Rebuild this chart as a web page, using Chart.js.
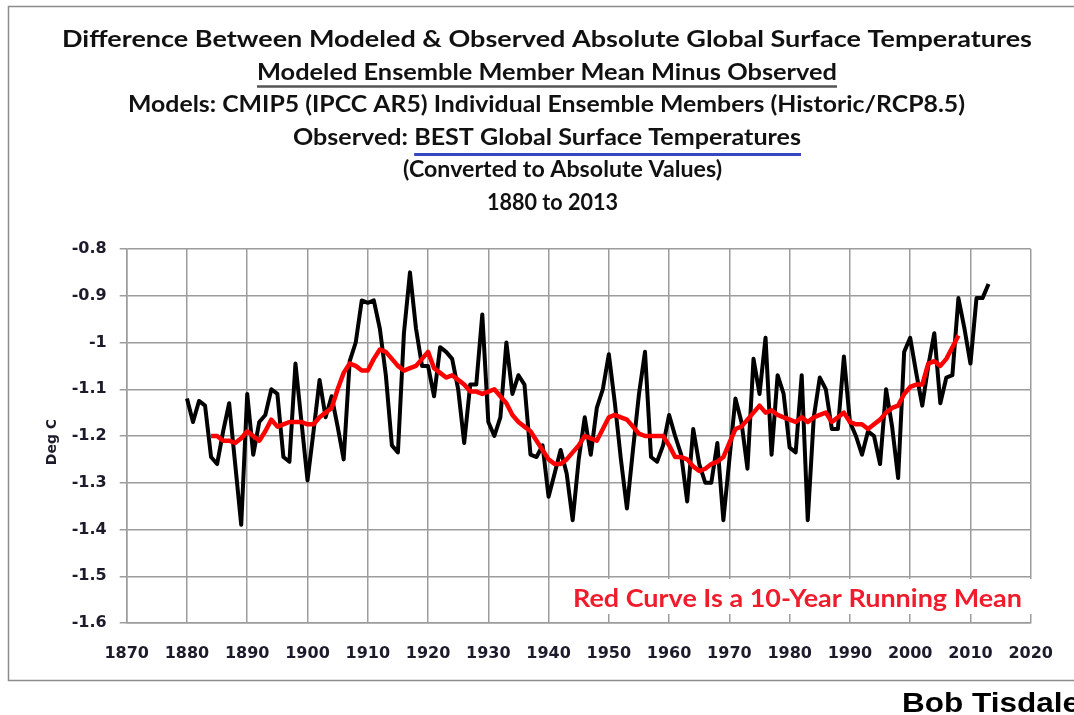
<!DOCTYPE html>
<html>
<head>
<meta charset="utf-8">
<script src="https://cdn.jsdelivr.net/npm/chart.js@4.4.1/dist/chart.umd.min.js"></script>
<style>
  html, body { margin: 0; padding: 0; background: #fff; }
  canvas { display: block; }
</style>
</head>
<body>
<canvas id="chart" width="1074" height="715"></canvas>
<script>
// values
const firstYear = 1880;
const modeledMinusObserved = [
  -1.12, -1.17, -1.125, -1.135, -1.245, -1.26, -1.19, -1.13, -1.26, -1.39,
  -1.11, -1.24, -1.17, -1.155, -1.10, -1.11, -1.245, -1.255, -1.045, -1.17,
  -1.295, -1.19, -1.08, -1.16, -1.115, -1.18, -1.25, -1.04, -1.00, -0.91,
  -0.915, -0.91, -0.97, -1.07, -1.22, -1.235, -0.98, -0.85, -0.97, -1.05,
  -1.05, -1.115, -1.01, -1.02, -1.035, -1.10, -1.215, -1.09, -1.09, -0.94,
  -1.17, -1.20, -1.16, -1.00, -1.11, -1.07, -1.09, -1.24, -1.245, -1.22,
  -1.33, -1.28, -1.23, -1.28, -1.38, -1.25, -1.16, -1.24, -1.14, -1.10,
  -1.025, -1.13, -1.25, -1.355, -1.23, -1.11, -1.02, -1.245, -1.255, -1.22,
  -1.155, -1.20, -1.24, -1.34, -1.185, -1.26, -1.30, -1.30, -1.215, -1.38,
  -1.25, -1.12, -1.17, -1.27, -1.035, -1.11, -0.99, -1.24, -1.07, -1.11,
  -1.225, -1.235, -1.07, -1.38, -1.16, -1.075, -1.10, -1.185, -1.185, -1.03,
  -1.17, -1.20, -1.24, -1.19, -1.20, -1.26, -1.10, -1.18, -1.29, -1.02,
  -0.99, -1.065, -1.135, -1.05, -0.98, -1.13, -1.075, -1.07, -0.905, -0.97,
  -1.045, -0.905, -0.905, -0.875
];

const meanFirstYear = 1884;
const runningMean = [
  -1.20, -1.20, -1.21, -1.21, -1.215, -1.205, -1.19, -1.20, -1.21, -1.19,
  -1.165, -1.18, -1.175, -1.17, -1.17, -1.17, -1.175, -1.175, -1.16, -1.15,
  -1.14, -1.10, -1.065, -1.045, -1.05, -1.06, -1.06, -1.035, -1.015, -1.02,
  -1.035, -1.05, -1.06, -1.055, -1.05, -1.035, -1.02, -1.055, -1.065, -1.075,
  -1.07, -1.08, -1.09, -1.105, -1.105, -1.11, -1.105, -1.10, -1.115, -1.13,
  -1.155, -1.17, -1.18, -1.19, -1.21, -1.23, -1.25, -1.26, -1.26, -1.25,
  -1.235, -1.22, -1.20, -1.205, -1.21, -1.185, -1.16, -1.155, -1.16, -1.165,
  -1.18, -1.195, -1.20, -1.20, -1.20, -1.20, -1.22, -1.245, -1.245, -1.25,
  -1.265, -1.275, -1.27, -1.26, -1.255, -1.245, -1.215, -1.185, -1.18, -1.165,
  -1.15, -1.135, -1.15, -1.145, -1.155, -1.16, -1.165, -1.17, -1.16, -1.17,
  -1.16, -1.155, -1.15, -1.17, -1.16, -1.15, -1.17, -1.175, -1.175, -1.185,
  -1.175, -1.165, -1.15, -1.14, -1.135, -1.11, -1.095, -1.09, -1.09, -1.045,
  -1.04, -1.05, -1.035, -1.01, -0.985
];

const xMin = 1870, xMax = 2020, xStep = 10;
const yMin = -1.6, yMax = -0.8, yStep = 0.1;

const titleLines = [
  "Difference Between Modeled & Observed Absolute Global Surface Temperatures",
  "Modeled Ensemble Member Mean Minus Observed",
  "Models: CMIP5 (IPCC AR5) Individual Ensemble Members (Historic/RCP8.5)",
  "Observed: BEST Global Surface Temperatures",
  "(Converted to Absolute Values)",
  "1880 to 2013"
];
const yTitle = "Deg C";
const noteText = "Red Curve Is a 10-Year Running Mean";
const credit = "Bob Tisdale";

const diffPoints = modeledMinusObserved.map((v, i) => ({ x: firstYear + i, y: v }));
const meanPoints = runningMean.map((v, i) => ({ x: meanFirstYear + i, y: v }));

const gridColor = '#9c9c9c';
const tickFont = { family: '"DejaVu Sans", Verdana, sans-serif', size: 16, weight: 'bold' };
const tickColor = '#1b1b2b';
const titleFont = '700 23px Lato, "Open Sans", sans-serif';

// draws text squeezed/stretched to a given width
function fitText(ctx, text, left, baseline, width, font, color) {
  ctx.save();
  ctx.font = font;
  const w = ctx.measureText(text).width;
  const s = width / w;
  ctx.translate(left, baseline);
  ctx.scale(s, 1);
  ctx.fillStyle = color;
  ctx.textAlign = 'left';
  ctx.textBaseline = 'alphabetic';
  ctx.fillText(text, 0, 0);
  ctx.restore();
  return s;
}

const decor = {
  id: 'decor',
  beforeDraw(chart) {
    const ctx = chart.ctx;
    ctx.save();
    ctx.fillStyle = '#fff';
    ctx.fillRect(0, 0, chart.width, chart.height);
    // outer frame (right side is cut off in the original)
    ctx.strokeStyle = '#8c8c8c';
    ctx.lineWidth = 1.5;
    ctx.beginPath();
    ctx.moveTo(1080, 6.5);
    ctx.lineTo(8.5, 6.5);
    ctx.lineTo(8.5, 680.5);
    ctx.lineTo(1080, 680.5);
    ctx.stroke();
    ctx.restore();
  },
  afterDraw(chart) {
    const ctx = chart.ctx;
    // title block
    const spans = [[62, 1032], [257, 837], [128, 965], [293, 801], [403, 722], [487, 618]];
    const base0 = 47, gap = 32.5;
    spans.forEach((sp, i) => {
      const y = base0 + i * gap;
      const s = fitText(ctx, titleLines[i], sp[0], y, sp[1] - sp[0], titleFont, '#111');
      if (i === 1) {
        ctx.save();
        ctx.strokeStyle = '#555';
        ctx.lineWidth = 2.5;
        ctx.beginPath();
        ctx.moveTo(sp[0], y + 7);
        ctx.lineTo(sp[1], y + 7);
        ctx.stroke();
        ctx.restore();
      }
      if (i === 3) {
        ctx.save();
        ctx.font = titleFont;
        const pre = ctx.measureText("Observed: ").width * s;
        ctx.strokeStyle = '#3846c0';
        ctx.lineWidth = 3;
        ctx.beginPath();
        ctx.moveTo(sp[0] + pre, y + 10);
        ctx.lineTo(sp[1], y + 10);
        ctx.stroke();
        ctx.restore();
      }
    });

    // y axis title
    ctx.save();
    ctx.translate(52, 442);
    ctx.rotate(-Math.PI / 2);
    ctx.font = 'bold 14px "DejaVu Sans", sans-serif';
    ctx.fillStyle = tickColor;
    ctx.textAlign = 'center';
    ctx.textBaseline = 'middle';
    ctx.fillText(yTitle, 0, 0);
    ctx.restore();

    // note box inside the plot
    ctx.save();
    ctx.fillStyle = '#fff';
    ctx.fillRect(565, 579, 471, 35);
    ctx.restore();
    fitText(ctx, noteText, 573, 607, 449, '700 24px Lato, "Open Sans", sans-serif', '#f01c2c');

    // credit
    fitText(ctx, credit, 902, 712, 178, 'bold 27px "Liberation Sans", Arial, sans-serif', '#000');
  }
};

new Chart(document.getElementById('chart'), {
  type: 'line',
  data: {
    datasets: [
      {
        label: '10-Year Running Mean',
        data: meanPoints,
        borderColor: '#ff0000',
        borderWidth: 4.5,
        pointRadius: 0,
        tension: 0,
        borderJoinStyle: 'round'
      },
      {
        label: 'Modeled Minus Observed',
        data: diffPoints,
        borderColor: '#000000',
        borderWidth: 4,
        pointRadius: 0,
        tension: 0,
        borderJoinStyle: 'round'
      }
    ]
  },
  options: {
    responsive: false,
    animation: false,
    devicePixelRatio: 1,
    layout: { padding: { left: 0, right: 36.4, top: 249, bottom: 0 } },
    plugins: {
      legend: { display: false },
      title: { display: false },
      tooltip: { enabled: false }
    },
    scales: {
      x: {
        type: 'linear',
        min: xMin,
        max: xMax,
        ticks: {
          stepSize: xStep,
          autoSkip: false,
          maxRotation: 0,
          padding: 21,
          font: tickFont,
          color: tickColor,
          callback: v => String(v)
        },
        grid: { color: gridColor, lineWidth: 1.5, drawTicks: false },
        border: { color: gridColor, width: 1.5 },
        afterFit: s => { s.height = 92; }
      },
      y: {
        min: yMin,
        max: yMax,
        ticks: {
          stepSize: yStep,
          padding: 13,
          font: tickFont,
          color: tickColor,
          callback: v => String(Math.round(v * 10) / 10)
        },
        grid: { color: gridColor, lineWidth: 1.5, tickLength: 7 },
        border: { color: gridColor, width: 1.5 },
        afterFit: s => { s.width = 126.7; }
      }
    }
  },
  plugins: [decor]
});
</script>
</body>
</html>
